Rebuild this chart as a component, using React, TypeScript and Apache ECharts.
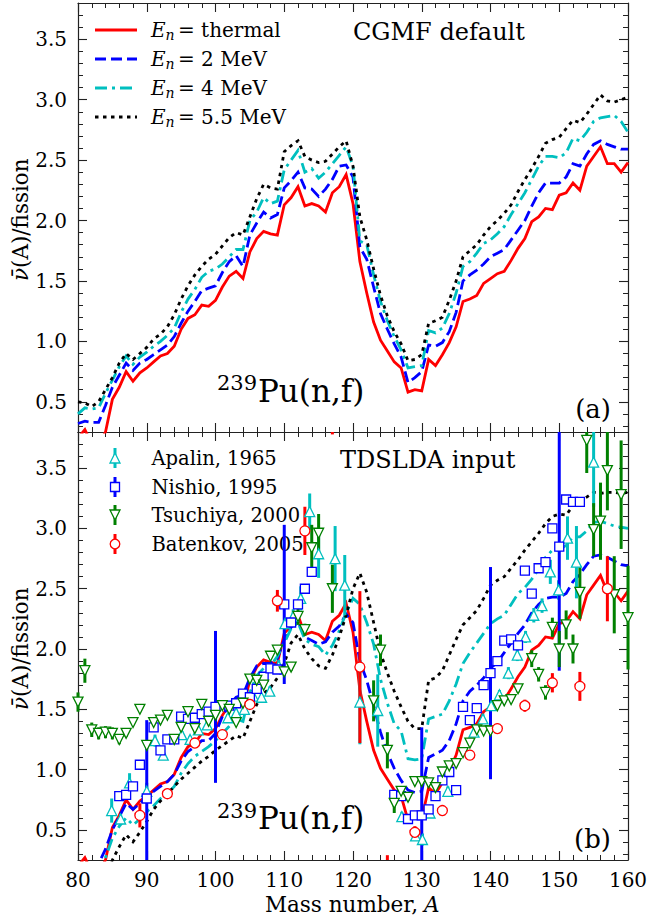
import React, { useEffect, useRef } from "react";
import * as echarts from "echarts";

// ---------------- data ----------------
const massNumbers = [
  80, 81, 82, 83, 84, 85, 86, 87, 88, 89,
  90, 91, 92, 93, 94, 95, 96, 97, 98, 99,
  100, 101, 102, 103, 104, 105, 106, 107, 108, 109,
  110, 111, 112, 113, 114, 115, 116, 117, 118, 119,
  120, 121, 122, 123, 124, 125, 126, 127, 128, 129,
  130, 131, 132, 133, 134, 135, 136, 137, 138, 139,
  140, 141, 142, 143, 144, 145, 146, 147, 148, 149,
  150, 151, 152, 153, 154, 155, 156, 157, 158, 159,
  160,
];

// En = thermal (same in both panels)
const thermal = [
  0.20, 0.27, 0.15, 0.15, 0.25, 0.52, 0.62, 0.75, 0.67, 0.74,
  0.78, 0.83, 0.88, 0.90, 0.96, 1.10, 1.19, 1.22, 1.30, 1.29,
  1.34, 1.45, 1.54, 1.58, 1.52, 1.74, 1.85, 1.91, 1.89, 1.88,
  2.13, 2.19, 2.28, 2.12, 2.14, 2.12, 2.07, 2.23, 2.28, 2.38,
  2.14, 1.66, 1.40, 1.16, 1.01, 0.92, 0.83, 0.78, 0.58, 0.60,
  0.59, 0.85, 0.80, 0.89, 0.99, 1.12, 1.33, 1.35, 1.38, 1.48,
  1.52, 1.56, 1.58, 1.67, 1.77, 1.85, 1.99, 2.03, 2.10, 2.09,
  2.21, 2.23, 2.31, 2.25, 2.45, 2.53, 2.61, 2.47, 2.47, 2.40,
  2.48,
];

// (a) CGMF default
const cgmf2MeV = [
  0.32, 0.34, 0.33, 0.33, 0.47, 0.62, 0.72, 0.82, 0.76, 0.82,
  0.85, 0.89, 0.93, 0.97, 1.04, 1.15, 1.25, 1.33, 1.42, 1.44,
  1.46, 1.57, 1.66, 1.71, 1.62, 1.88, 1.98, 2.07, 2.02, 2.05,
  2.27, 2.33, 2.40, 2.27, 2.26, 2.20, 2.26, 2.34, 2.45, 2.46,
  2.36, 1.78, 1.68, 1.45, 1.23, 1.10, 0.98, 0.87, 0.66, 0.70,
  0.75, 0.97, 0.96, 0.99, 1.08, 1.24, 1.50, 1.55, 1.59, 1.64,
  1.70, 1.73, 1.76, 1.84, 1.92, 2.00, 2.12, 2.23, 2.31, 2.31,
  2.31, 2.36, 2.47, 2.45, 2.55, 2.63, 2.66, 2.63, 2.61, 2.59,
  2.59,
];
const cgmf4MeV = [
  0.40, 0.45, 0.44, 0.45, 0.57, 0.68, 0.79, 0.88, 0.81, 0.87,
  0.91, 0.96, 1.00, 1.05, 1.11, 1.24, 1.35, 1.43, 1.53, 1.58,
  1.60, 1.64, 1.70, 1.76, 1.76, 2.00, 2.07, 2.19, 2.14, 2.16,
  2.42, 2.50, 2.58, 2.40, 2.43, 2.35, 2.40, 2.47, 2.54, 2.61,
  2.45, 1.83, 1.80, 1.55, 1.33, 1.17, 1.04, 0.93, 0.78, 0.79,
  0.80, 1.09, 1.07, 1.11, 1.23, 1.40, 1.62, 1.66, 1.73, 1.81,
  1.84, 1.89, 1.95, 2.05, 2.14, 2.23, 2.34, 2.45, 2.53, 2.53,
  2.52, 2.56, 2.68, 2.66, 2.73, 2.82, 2.85, 2.86, 2.87, 2.82,
  2.73,
];
const cgmf55MeV = [
  0.50, 0.49, 0.46, 0.50, 0.60, 0.70, 0.82, 0.90, 0.85, 0.90,
  0.95, 1.02, 1.06, 1.12, 1.22, 1.35, 1.46, 1.55, 1.62, 1.68,
  1.72, 1.79, 1.86, 1.90, 1.88, 2.03, 2.18, 2.30, 2.27, 2.26,
  2.57, 2.62, 2.66, 2.53, 2.50, 2.48, 2.49, 2.55, 2.61, 2.66,
  2.45, 2.03, 1.84, 1.60, 1.38, 1.21, 1.08, 0.98, 0.84, 0.85,
  0.89, 1.15, 1.17, 1.20, 1.34, 1.50, 1.70, 1.75, 1.80, 1.88,
  1.95, 2.00, 2.06, 2.13, 2.24, 2.34, 2.43, 2.53, 2.64, 2.67,
  2.69, 2.76, 2.83, 2.81, 2.88, 2.96, 3.04, 2.99, 2.98, 3.00,
  3.02,
];

// (b) TDSLDA input
const tdslda2MeV = [
  0.10, 0.12, 0.15, 0.22, 0.34, 0.50, 0.61, 0.72, 0.67, 0.72,
  0.77, 0.82, 0.86, 0.90, 0.96, 1.07, 1.15, 1.19, 1.24, 1.24,
  1.30, 1.44, 1.54, 1.60, 1.62, 1.76, 1.86, 1.88, 1.88, 1.92,
  2.08, 2.18, 2.23, 2.10, 2.07, 2.04, 2.06, 2.14, 2.19, 2.29,
  2.22, 1.90, 1.74, 1.53, 1.31, 1.14, 1.01, 0.91, 0.83, 0.81,
  0.82, 1.10, 1.13, 1.16, 1.24, 1.38, 1.57, 1.65, 1.70, 1.76,
  1.84, 1.89, 1.97, 2.05, 2.13, 2.20, 2.30, 2.37, 2.42, 2.43,
  2.43, 2.46, 2.56, 2.62, 2.70, 2.77, 2.78, 2.76, 2.73, 2.70,
  2.69,
];
const tdslda4MeV = [
  0.05, 0.05, 0.08, 0.12, 0.27, 0.43, 0.53, 0.60, 0.54, 0.59,
  0.65, 0.70, 0.76, 0.80, 0.86, 0.97, 1.05, 1.11, 1.15, 1.19,
  1.24, 1.30, 1.36, 1.42, 1.40, 1.64, 1.78, 1.84, 1.86, 1.94,
  2.05, 2.17, 2.22, 2.08, 2.04, 2.02, 1.95, 2.03, 2.15, 2.30,
  2.42, 2.37, 2.22, 2.04, 1.75, 1.55, 1.38, 1.32, 1.09, 1.08,
  1.09, 1.42, 1.44, 1.46, 1.57, 1.71, 1.88, 1.97, 2.05, 2.13,
  2.21, 2.25, 2.28, 2.37, 2.46, 2.51, 2.58, 2.66, 2.76, 2.82,
  2.82, 2.86, 2.93, 2.93, 2.98, 3.05, 3.06, 3.04, 3.02, 3.01,
  3.00,
];
const tdslda55MeV = [
  0.00, 0.00, 0.02, 0.05, 0.12, 0.25, 0.36, 0.46, 0.40, 0.48,
  0.57, 0.67, 0.74, 0.80, 0.86, 0.92, 0.97, 1.02, 1.07, 1.11,
  1.16, 1.20, 1.24, 1.28, 1.26, 1.40, 1.54, 1.63, 1.68, 1.76,
  1.88, 2.05, 2.12, 2.00, 1.92, 1.86, 1.84, 1.95, 2.10, 2.28,
  2.50, 2.63, 2.47, 2.22, 1.97, 1.80, 1.65, 1.52, 1.40, 1.34,
  1.34, 1.74, 1.76, 1.82, 1.95, 2.08, 2.20, 2.26, 2.32, 2.42,
  2.53, 2.57, 2.60, 2.67, 2.74, 2.82, 2.89, 2.96, 3.04, 3.10,
  3.12, 3.11, 3.19, 3.23, 3.26, 3.30, 3.29, 3.30, 3.30, 3.29,
  3.30,
];

// Experimental data
const apalinA = [
  84.9, 86.2, 87.5, 90.0, 91.2, 92.4, 95.1, 96.3, 97.5, 98.8,
  101.8, 103.0, 104.2, 105.5, 106.7, 107.9, 109.2, 110.1, 111.3, 112.4,
  113.7, 115.0, 117.4, 118.8, 121.0, 123.6, 127.1, 129.1, 130.1, 131.2,
  133.8, 137.6, 138.9, 140.1, 141.3, 142.6, 143.9, 145.1, 146.3, 147.5,
  148.7, 149.9, 151.2, 152.5, 155.0,
];
const apalinNu = [
  0.66, 0.59, 0.89, 0.82, 1.24, 1.12, 1.29, 1.25, 1.33, 1.37,
  1.43, 1.47, 1.50, 1.61, 1.60, 1.65, 1.86, 2.21, 2.27, 2.42,
  3.14, 2.79, 2.75, 2.53, 1.56, 1.49, 0.61, 0.45, 0.42, 0.64,
  0.82, 1.31, 1.42, 1.53, 1.62, 1.80, 1.95, 2.10, 2.28, 2.36,
  2.64, 2.49, 2.92, 2.72, 3.55,
];
const apalinErr = [
  0.10, 0.04, 0.08, 0.07, 0.05, 0.04, 0.03, 0.03, 0.03, 0.03,
  0.03, 0.03, 0.03, 0.03, 0.03, 0.04, 0.05, 0.05, 0.06, 0.10,
  0.15, 0.20, 0.27, 0.25, 0.35, 0.30, 0.04, 0.04, 0.05, 0.04,
  0.04, 0.04, 0.04, 0.04, 0.04, 0.05, 0.05, 0.05, 0.06, 0.06,
  0.10, 0.08, 0.18, 0.30, 0.37,
];

const nishioA = [
  86, 87, 88, 89, 90, 91, 92, 93, 94, 95, 96, 97, 98, 99, 100,
  102, 103, 104, 105, 106, 107, 108, 109, 110, 111, 112, 113, 114,
  126, 127, 128, 129, 130, 131, 132, 133, 134, 135,
  136, 137, 138, 139, 140, 141, 142, 143, 144, 145,
  146, 147, 148, 149, 150, 151, 152, 153,
];
const nishioNu = [
  0.78, 0.79, 0.86, 1.04, 0.76, 1.35, 1.16, 1.25, 1.25, 1.44, 1.42, 1.43, 1.46, 1.48, 1.52,
  1.53, 1.55, 1.63, 1.60, 1.67, 1.77, 1.84, 1.83, 2.37, 2.22, 2.37, 2.50, 2.64,
  0.79, 0.78, 0.59, 0.62, 0.62, 0.67, 0.78, 0.91, 0.98, 0.83,
  1.52, 1.41, 1.51, 1.70, 1.80, 1.90, 2.07, 2.08, 2.03, 2.65,
  2.46, 2.67, 2.72, 3.00, 2.85, 3.24, 3.22, 3.22,
];
const nishioErr = [
  0.02, 0.02, 0.02, 0.02, 0.65, 0.02, 0.02, 0.02, 0.02, 0.02, 0.02, 0.02, 0.02, 0.02, 0.63,
  0.02, 0.02, 0.02, 0.02, 0.02, 0.02, 0.02, 0.02, 0.66, 0.02, 0.02, 0.02, 0.02,
  0.02, 0.02, 0.02, 0.02, 0.73, 0.02, 0.02, 0.02, 0.02, 0.02,
  0.02, 0.02, 0.02, 0.02, 0.88, 0.02, 0.02, 0.02, 0.02, 0.02,
  0.02, 0.02, 0.02, 0.02, 1.03, 0.02, 0.02, 0.02,
];

const tsuchiyaA = [
  80, 81, 82, 83, 84, 85, 86, 87, 88, 89,
  90, 91, 92, 93, 94, 95, 96, 97, 98, 99,
  100, 101, 102, 103, 104, 105, 106, 107, 108, 109,
  110, 111, 112, 113, 114, 115, 117,
  123, 124, 125, 126, 127, 128, 129, 130, 131, 132,
  133, 134, 135, 136, 137, 138, 139, 140, 141, 142, 143, 144,
  146, 147, 148, 149, 150, 151, 152, 153, 154, 155, 156, 157, 158, 159, 160,
];
const tsuchiyaNu = [
  1.56, 1.82, 1.33, 1.30, 1.31, 1.30, 1.25, 1.30, 1.39, 1.50,
  1.20, 1.39, 1.41, 1.45, 1.25, 1.35, 1.48, 1.34, 1.54, 1.40,
  1.45, 1.53, 1.50, 1.39, 1.55, 1.75, 1.74, 1.70, 1.94, 1.99,
  1.81, 1.85, 2.27, 2.16, 2.84, 2.96, 2.50,
  1.57, 1.99, 1.16, 0.72, 0.82, 0.77, 0.90, 0.90, 0.89, 0.85,
  0.98, 1.03, 1.05, 1.14, 1.22, 1.33, 1.32, 1.32, 1.53, 1.57, 1.58, 1.67,
  1.92, 1.79, 1.64, 2.18, 2.00, 2.20, 2.00, 2.47, 3.73, 2.99, 3.06, 3.48, 2.45, 3.28, 2.26,
];
const tsuchiyaErr = [
  0.08, 0.10, 0.06, 0.05, 0.05, 0.05, 0.04, 0.03, 0.02, 0.02,
  0.02, 0.02, 0.02, 0.02, 0.02, 0.02, 0.02, 0.02, 0.02, 0.02,
  0.02, 0.02, 0.02, 0.02, 0.02, 0.02, 0.02, 0.02, 0.02, 0.02,
  0.03, 0.03, 0.07, 0.05, 0.19, 0.16, 0.20,
  0.17, 0.13, 0.15, 0.08, 0.03, 0.03, 0.02, 0.02, 0.02, 0.02,
  0.02, 0.02, 0.02, 0.02, 0.02, 0.02, 0.02, 0.02, 0.02, 0.02, 0.02, 0.03,
  0.07, 0.06, 0.06, 0.08, 0.15, 0.12, 0.12, 0.22, 0.27, 0.22, 0.32, 0.33, 0.32, 0.45, 0.43,
];

const batenkovA = [89, 93, 97, 101, 105, 109, 113, 117, 121, 125, 129, 133, 137, 141, 145, 149, 153, 157];
const batenkovNu = [0.62, 0.80, 1.22, 1.29, 1.54, 2.40, 2.98, 3.95, 1.85, 0.10, 0.48, 0.66, 1.12, 1.34, 1.53, 1.72, 1.69, 2.50];
const batenkovErr = [0.10, 0.04, 0.03, 0.03, 0.03, 0.09, 0.20, 0.17, 0.63, 0.19, 0.05, 0.03, 0.04, 0.04, 0.05, 0.08, 0.12, 0.27];

// Axis ticks / labels
const yMajorTicks = [0.5, 1.0, 1.5, 2.0, 2.5, 3.0, 3.5];
const yMinorTicks = [
  0.3, 0.4, 0.6, 0.7, 0.8, 0.9, 1.1, 1.2, 1.3, 1.4, 1.6, 1.7, 1.8, 1.9,
  2.1, 2.2, 2.3, 2.4, 2.6, 2.7, 2.8, 2.9, 3.1, 3.2, 3.3, 3.4, 3.6, 3.7,
];
const Y_MIN = 0.25;
const Y_MAX = 3.8;
const X_MIN = 80;
const X_MAX = 160;

// ---------------- styling ----------------
const RED = "#ff0000";
const BLUE = "#0000ff";
const CYAN = "#00bfbf";
const GREEN = "#008000";
const BLACK = "#000000";
const AX = "#222222";
const FAMILY = "DejaVu Serif";
const FONT = '"DejaVu Serif", serif';
const DASH = [11, 5];
const DASHDOT = [12, 5, 3, 5];
const DOT = [3.5, 4.5];

const pairs = (xs: number[], ys: number[]) => xs.map((x, i) => [x, ys[i]]);
const triples = (xs: number[], ys: number[], es: number[]) => xs.map((x, i) => [x, ys[i], es[i]]);

function fontStr(size: number, italic = false) {
  return `${italic ? "italic " : ""}${size}px "${FAMILY}", serif`;
}

function textEl(
  x: number,
  y: number,
  text: string,
  size: number,
  opts: { italic?: boolean; align?: string; rotation?: number } = {}
) {
  return {
    type: "text",
    x,
    y,
    rotation: opts.rotation || 0,
    silent: true,
    style: {
      text,
      font: fontStr(size, !!opts.italic),
      fontSize: size,
      fontFamily: FAMILY,
      fontStyle: opts.italic ? "italic" : "normal",
      fill: "#000000",
      align: opts.align || "left",
      verticalAlign: "middle",
    },
  };
}

function xAxisPair(gridIndex: number, labels: boolean) {
  const common: any = {
    type: "value",
    gridIndex,
    min: X_MIN,
    max: X_MAX,
    interval: 10,
    axisLine: { show: true, onZero: false, lineStyle: { color: AX, width: 1.2 } },
    axisTick: { show: true, inside: true, length: 9, lineStyle: { color: AX, width: 1.1 } },
    minorTick: { show: true, splitNumber: 5, length: 5, lineStyle: { color: AX, width: 1 } },
    splitLine: { show: false },
    minorSplitLine: { show: false },
  };
  return [
    {
      ...common,
      position: "bottom",
      axisLabel: {
        show: labels,
        margin: 10,
        fontSize: 20,
        fontFamily: FONT,
        color: "#000",
        showMinLabel: true,
        showMaxLabel: true,
      },
    },
    { ...common, position: "top", axisLabel: { show: false } },
  ];
}

function yAxisSet(gridIndex: number) {
  const base: any = {
    type: "value",
    gridIndex,
    min: Y_MIN,
    max: Y_MAX,
    splitLine: { show: false },
  };
  const major = (pos: string) => ({
    ...base,
    position: pos,
    axisLine: { show: true, onZero: false, lineStyle: { color: AX, width: 1.2 } },
    axisTick: { show: true, inside: true, length: 9, customValues: yMajorTicks, lineStyle: { color: AX, width: 1.1 } },
    axisLabel:
      pos === "left"
        ? {
            show: true,
            customValues: yMajorTicks,
            formatter: (v: number) => Number(v).toFixed(1),
            margin: 11,
            fontSize: 20,
            fontFamily: FONT,
            color: "#000",
          }
        : { show: false },
  });
  const minor = (pos: string) => ({
    ...base,
    position: pos,
    axisLine: { show: false },
    axisTick: { show: true, inside: true, length: 5, customValues: yMinorTicks, lineStyle: { color: AX, width: 1 } },
    axisLabel: { show: false },
  });
  return [major("left"), minor("left"), major("right"), minor("right")];
}

function lineSeries(values: number[], color: string, dash: any, xi: number, yi: number) {
  return {
    type: "line",
    xAxisIndex: xi,
    yAxisIndex: yi,
    data: pairs(massNumbers, values),
    symbol: "none",
    showSymbol: false,
    clip: true,
    silent: true,
    z: 2,
    lineStyle: { color, width: 2.8, type: dash, cap: "butt", join: "miter" },
  };
}

function errorBars(xs: number[], ys: number[], es: number[], color: string) {
  return {
    type: "custom",
    xAxisIndex: 2,
    yAxisIndex: 4,
    data: triples(xs, ys, es),
    encode: { x: 0, y: 1 },
    silent: true,
    z: 3,
    renderItem: (params: any, api: any) => {
      const x = api.value(0);
      const y = api.value(1);
      const e = api.value(2);
      const lo = Math.max(y - e, Y_MIN);
      const hi = Math.min(y + e, Y_MAX);
      if (!(hi > lo)) return null;
      const p1 = api.coord([x, lo]);
      const p2 = api.coord([x, hi]);
      return {
        type: "line",
        shape: { x1: p1[0], y1: p1[1], x2: p2[0], y2: p2[1] },
        style: { stroke: color, lineWidth: 3 },
      };
    },
  };
}

function markers(xs: number[], ys: number[], symbol: string, size: number, color: string, rotate = 0) {
  return {
    type: "scatter",
    xAxisIndex: 2,
    yAxisIndex: 4,
    data: pairs(xs, ys),
    symbol,
    symbolSize: size,
    symbolRotate: rotate,
    clip: true,
    silent: true,
    z: 4,
    itemStyle: { color: "#ffffff", borderColor: color, borderWidth: 1.3, opacity: 1 },
  };
}

function buildGraphics() {
  const els: any[] = [];
  // top legend
  const topEntries = [
    { rest: "= thermal", color: RED, dash: null },
    { rest: "= 2 MeV", color: BLUE, dash: DASH },
    { rest: "= 4 MeV", color: CYAN, dash: DASHDOT },
    { rest: "= 5.5 MeV", color: BLACK, dash: DOT },
  ];
  const topRows = [30, 59, 88, 117];
  topEntries.forEach((e, i) => {
    const y = topRows[i];
    els.push({
      type: "line",
      shape: { x1: 95, y1: y, x2: 137, y2: y },
      style: { stroke: e.color, lineWidth: 2.8, lineDash: e.dash || undefined },
      silent: true,
    });
    els.push(textEl(151, y, "E", 20, { italic: true }));
    els.push(textEl(165.5, y + 4.5, "n", 14, { italic: true }));
    els.push(textEl(178, y, e.rest, 20));
  });

  // bottom legend
  const botRows = [458, 487, 515, 544];
  const botEntries = [
    { label: "Apalin, 1965", color: CYAN, shape: "up" },
    { label: "Nishio, 1995", color: BLUE, shape: "square" },
    { label: "Tsuchiya, 2000", color: GREEN, shape: "down" },
    { label: "Batenkov, 2005", color: RED, shape: "circle" },
  ];
  const cx = 115;
  botEntries.forEach((e, i) => {
    const y = botRows[i];
    els.push({
      type: "line",
      shape: { x1: cx, y1: y - 10, x2: cx, y2: y + 10 },
      style: { stroke: e.color, lineWidth: 3 },
      silent: true,
    });
    const st = { fill: "#ffffff", stroke: e.color, lineWidth: 1.3 };
    if (e.shape === "up") {
      els.push({ type: "polygon", shape: { points: [[cx, y - 5], [cx - 5, y + 5], [cx + 5, y + 5]] }, style: st, silent: true });
    } else if (e.shape === "down") {
      els.push({ type: "polygon", shape: { points: [[cx - 5, y - 5], [cx + 5, y - 5], [cx, y + 5]] }, style: st, silent: true });
    } else if (e.shape === "square") {
      els.push({ type: "rect", shape: { x: cx - 4.5, y: y - 4.5, width: 9, height: 9 }, style: st, silent: true });
    } else {
      els.push({ type: "circle", shape: { cx, cy: y, r: 4.8 }, style: st, silent: true });
    }
    els.push(textEl(151.5, y, e.label, 19.5));
  });

  // panel titles
  els.push(textEl(353, 32, "CGMF default", 24));
  els.push(textEl(340, 460, "TDSLDA input", 24));

  // reaction labels
  els.push(textEl(217, 383, "239", 21));
  els.push(textEl(258, 391, "Pu(n,f)", 31));
  els.push(textEl(217, 811, "239", 21));
  els.push(textEl(258, 818, "Pu(n,f)", 31));

  // panel letters
  els.push(textEl(611, 409, "(a)", 26, { align: "right" }));
  els.push(textEl(611, 839, "(b)", 26, { align: "right" }));

  // y axis titles (rotated, reading upward)
  [281, 710].forEach((yStart) => {
    els.push(textEl(20, yStart, "\u03BD\u0304", 21.5, { italic: true, rotation: Math.PI / 2 }));
    els.push(textEl(20, yStart - 13, "(A)/fission", 21.5, { rotation: Math.PI / 2 }));
  });

  // x axis title
  els.push(textEl(265, 904, "Mass number,", 21.5));
  els.push(textEl(424, 904, "A", 21.5, { italic: true }));
  return els;
}

function buildOption() {
  return {
    animation: false,
    backgroundColor: "#ffffff",
    grid: [
      { left: 78, top: 3, width: 550, height: 429, outerBoundsMode: "none" },
      { left: 78, top: 432, width: 550, height: 428, outerBoundsMode: "none" },
    ],
    xAxis: [...xAxisPair(0, false), ...xAxisPair(1, true)],
    yAxis: [...yAxisSet(0), ...yAxisSet(1)],
    series: [
      // (a)
      lineSeries(thermal, RED, "solid", 0, 0),
      lineSeries(cgmf2MeV, BLUE, DASH, 0, 0),
      lineSeries(cgmf4MeV, CYAN, DASHDOT, 0, 0),
      lineSeries(cgmf55MeV, BLACK, DOT, 0, 0),
      // (b)
      lineSeries(thermal, RED, "solid", 2, 4),
      lineSeries(tdslda2MeV, BLUE, DASH, 2, 4),
      lineSeries(tdslda4MeV, CYAN, DASHDOT, 2, 4),
      lineSeries(tdslda55MeV, BLACK, DOT, 2, 4),
      errorBars(apalinA, apalinNu, apalinErr, CYAN),
      errorBars(nishioA, nishioNu, nishioErr, BLUE),
      errorBars(tsuchiyaA, tsuchiyaNu, tsuchiyaErr, GREEN),
      errorBars(batenkovA, batenkovNu, batenkovErr, RED),
      markers(apalinA, apalinNu, "triangle", 10, CYAN),
      markers(nishioA, nishioNu, "rect", 9, BLUE),
      markers(tsuchiyaA, tsuchiyaNu, "triangle", 10, GREEN, 180),
      markers(batenkovA, batenkovNu, "circle", 10, RED),
    ],
    graphic: { elements: buildGraphics() },
  };
}

export default function App() {
  const ref = useRef<HTMLDivElement>(null);
  useEffect(() => {
    if (!ref.current) return;
    const chart = echarts.init(ref.current, undefined, { renderer: "svg" });
    chart.setOption(buildOption() as any);
    return () => {
      chart.dispose();
    };
  }, []);
  return (
    <div
      ref={ref}
      style={{ position: "fixed", left: 0, top: 0, width: 648, height: 921, background: "#ffffff" }}
    />
  );
}
